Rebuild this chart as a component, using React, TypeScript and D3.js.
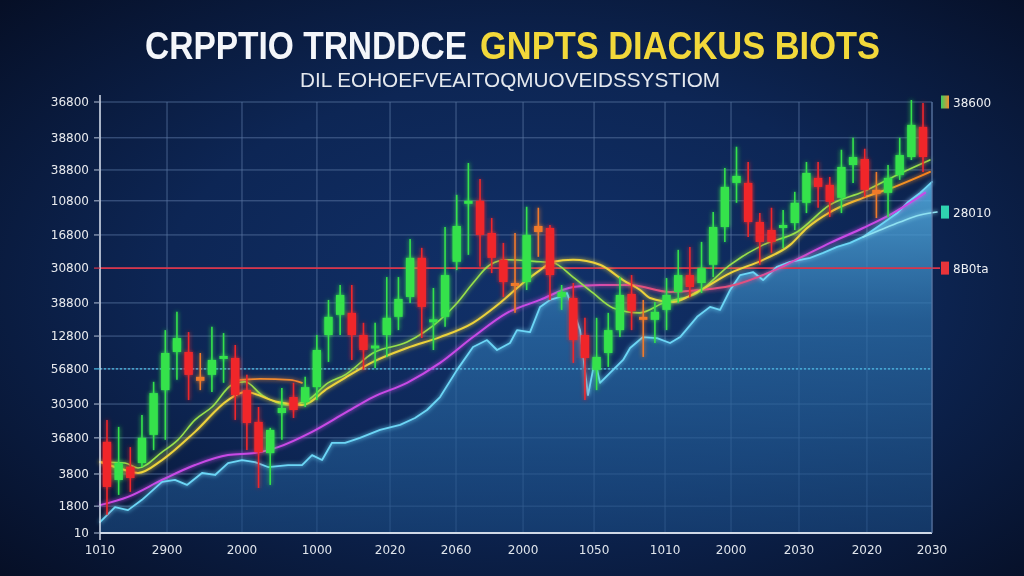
import React from 'react';
import * as d3 from 'd3';

const W = 1024;
const H = 576;

const titleWhite = 'CRPPTIO TRNDDCE';
const titleYellow = 'GNPTS DIACKUS BIOTS';
const subtitle = 'DIL EOHOEFVEAITOQMUOVEIDSSYSTIOM';

const yTickValues = [0, 8.1, 17.8, 28.7, 38.9, 49.5, 59.4, 69.4, 79.9, 89.9, 100.2, 109.5, 119.2, 130];
const yTickLabels = ['10', '1800', '3800', '36800', '30300', '56800', '12800', '38800', '30800', '16800', '10800', '38800', '38800', '36800'];
const xTickValues = [-0.6, 5.15, 11.58, 18.01, 24.28, 29.94, 35.69, 41.78, 47.87, 53.53, 59.36, 65.19, 70.77];
const xTickLabels = ['1010', '2900', '2000', '1000', '2020', '2060', '2000', '1050', '1010', '2000', '2030', '2020', '2030'];

const candleOpen = [27.5, 16.0, 20.0, 21.1, 29.6, 43.1, 54.6, 54.6, 47.1, 47.7, 52.5, 52.8, 43.1, 33.5, 24.1, 36.2, 41.0, 39.5, 44.0, 59.7, 65.8, 66.4, 59.7, 55.8, 59.7, 65.2, 71.2, 83.0, 63.7, 65.2, 81.8, 99.3, 100.2, 90.5, 82.4, 75.4, 75.7, 92.6, 92.0, 71.2, 70.9, 59.7, 49.2, 54.3, 61.2, 72.1, 65.2, 64.3, 67.3, 72.7, 77.8, 75.4, 80.9, 92.3, 105.6, 105.6, 93.8, 91.4, 92.0, 93.5, 99.6, 107.1, 105.0, 101.1, 111.0, 112.8, 103.5, 102.6, 108.0, 113.4, 122.5];
const candleHigh = [34.1, 32.0, 25.9, 35.6, 45.6, 61.2, 66.7, 60.6, 54.3, 62.2, 60.3, 56.7, 47.7, 38.0, 31.7, 43.7, 45.3, 47.1, 59.7, 70.3, 74.8, 74.8, 63.4, 63.4, 77.2, 77.2, 88.7, 86.0, 73.9, 92.3, 102.0, 111.6, 106.8, 95.0, 87.5, 90.5, 98.4, 98.1, 92.9, 74.8, 75.4, 64.9, 64.9, 66.4, 77.2, 77.8, 70.3, 69.7, 76.9, 85.4, 86.3, 87.8, 96.8, 110.1, 116.5, 111.9, 96.5, 98.1, 97.4, 102.9, 111.9, 111.9, 107.4, 115.6, 119.2, 115.9, 108.9, 111.0, 119.2, 130.6, 129.7];
const candleLow = [5.5, 11.5, 12.4, 19.9, 25.0, 28.1, 46.2, 40.1, 43.1, 42.5, 45.3, 34.1, 25.0, 13.6, 14.5, 28.1, 34.7, 38.0, 40.1, 51.6, 59.7, 52.2, 49.2, 49.8, 53.1, 61.2, 69.4, 58.8, 55.2, 62.2, 79.3, 83.9, 80.3, 78.4, 71.2, 66.4, 73.3, 83.3, 70.3, 67.3, 51.3, 40.1, 43.1, 50.1, 59.1, 61.2, 53.1, 57.3, 61.2, 69.4, 71.2, 72.4, 77.2, 87.8, 99.6, 89.3, 80.9, 84.5, 86.0, 91.4, 96.5, 98.1, 95.3, 96.5, 105.6, 101.4, 95.0, 95.3, 106.5, 112.5, 108.9];
const candleClose = [13.9, 21.1, 16.6, 28.7, 42.2, 54.3, 58.8, 47.7, 45.9, 52.2, 53.4, 41.6, 33.2, 24.4, 31.1, 37.7, 37.1, 44.0, 55.2, 65.2, 71.8, 59.7, 55.2, 56.4, 64.9, 70.6, 83.0, 68.2, 64.3, 77.8, 92.6, 100.2, 89.9, 83.0, 75.7, 74.5, 89.9, 90.8, 77.8, 72.7, 58.2, 52.8, 53.1, 61.2, 71.8, 67.0, 64.3, 66.7, 71.8, 77.8, 74.2, 79.9, 92.3, 104.4, 107.7, 93.8, 87.8, 87.8, 92.9, 99.6, 108.6, 104.4, 99.9, 110.4, 113.4, 103.5, 102.3, 107.1, 114.0, 123.1, 113.4];

type P = [number, number];

const priceArea: P[] = [[-0.6, 3.3], [0.69, 7.8], [1.8, 6.9], [3.0, 10.0], [4.72, 15.4], [5.83, 16.0], [6.86, 14.5], [8.15, 18.1], [9.27, 17.5], [10.38, 21.1], [11.58, 22.0], [12.7, 21.4], [13.81, 19.9], [15.53, 20.5], [16.73, 20.5], [17.59, 23.5], [18.45, 22.0], [19.3, 27.2], [20.42, 27.2], [21.7, 28.7], [23.42, 31.1], [25.14, 32.6], [26.42, 34.7], [27.45, 37.1], [28.57, 41.0], [30.03, 49.2], [31.4, 56.1], [32.6, 58.2], [33.46, 55.2], [34.57, 57.3], [35.17, 61.2], [36.29, 60.6], [37.15, 68.2], [38.0, 70.3], [38.86, 71.2], [39.46, 72.4], [39.98, 67.3], [40.58, 61.2], [41.26, 41.6], [41.86, 52.2], [42.29, 45.3], [43.15, 48.3], [44.27, 52.2], [44.87, 55.8], [45.98, 59.1], [47.18, 58.8], [48.3, 57.3], [49.16, 59.1], [50.62, 65.2], [51.73, 68.2], [52.59, 67.3], [53.45, 73.3], [54.31, 77.8], [55.42, 78.7], [56.28, 76.3], [57.48, 80.3], [58.6, 81.8], [60.31, 83.0], [61.43, 84.5], [62.63, 86.3], [63.74, 87.5], [64.86, 89.3], [65.72, 91.4], [66.58, 93.5], [67.78, 96.5], [68.64, 99.6], [69.75, 102.6], [70.77, 105.9]];
const paleCyanLine: P[] = [[64.86, 89.3], [66.32, 91.4], [68.03, 93.8], [69.75, 95.9], [71.2, 96.8]];
const magentaLine: P[] = [[-0.6, 8.4], [1.8, 10.9], [4.72, 16.0], [7.55, 20.5], [10.38, 23.5], [12.7, 24.1], [14.67, 25.9], [17.59, 30.5], [20.42, 36.2], [22.82, 41.0], [25.74, 45.3], [28.57, 51.3], [31.4, 59.1], [34.32, 66.4], [37.15, 70.3], [39.98, 74.2], [42.29, 74.8], [44.87, 74.8], [48.3, 72.7], [50.87, 73.3], [53.45, 74.5], [56.88, 78.7], [59.45, 83.0], [62.03, 87.5], [64.86, 92.0], [67.43, 96.5], [70.17, 102.6]];
const limeLine: P[] = [[-0.6, 21.4], [1.54, 21.1], [2.66, 19.6], [4.72, 24.4], [6.09, 28.1], [7.55, 34.1], [9.01, 38.0], [10.72, 44.7], [11.84, 45.6], [13.3, 41.6], [15.53, 38.6], [17.24, 40.1], [18.96, 45.3], [20.42, 47.7], [22.82, 54.3], [25.74, 57.6], [28.57, 64.3], [30.03, 69.4], [31.4, 75.4], [32.86, 80.9], [34.32, 82.4], [37.15, 81.8], [38.26, 81.5], [39.98, 77.2], [41.69, 72.4], [43.41, 67.9], [45.73, 66.4], [47.7, 69.4], [50.62, 72.4], [53.45, 80.9], [56.28, 86.9], [59.19, 90.8], [62.03, 99.0], [64.86, 102.9], [67.78, 108.0], [70.6, 112.5]];
const yellowLine: P[] = [[-0.6, 21.4], [1.54, 19.0], [2.66, 18.1], [4.72, 22.0], [7.55, 30.5], [10.38, 40.1], [11.84, 42.5], [14.67, 39.5], [16.73, 38.6], [18.96, 43.7], [20.42, 46.8], [22.82, 51.6], [25.74, 55.8], [28.57, 59.1], [31.4, 63.4], [33.71, 69.4], [35.69, 75.4], [37.15, 79.3], [38.26, 81.8], [39.98, 82.4], [42.29, 80.9], [44.27, 76.3], [45.73, 73.3], [46.58, 70.9], [48.55, 69.7], [50.62, 72.7], [53.45, 78.4], [56.28, 82.4], [58.6, 86.9], [60.05, 92.0], [62.03, 96.8], [64.86, 101.1], [67.78, 104.7], [70.6, 108.9]];
const orangeLine: P[] = [[10.72, 45.9], [13.13, 46.5], [15.7, 46.2], [16.73, 45.3]];

const redLevel = 79.9;
const cyanLevel = 49.5;

const legendValues = [130, 96.8, 79.9];
const legendLabels = ['38600', '28010', '8B0ta'];
const legendColors = ['url(#legGrad)', '#2fd3b0', '#e8343a'];

export default function App() {
  const x = d3.scaleLinear().domain([-0.6, 70.77]).range([100, 932]);
  const y = d3.scaleLinear().domain([0, 130]).range([533, 102]);
  const step = x(1) - x(0);
  const bw = step * 0.72;

  const smooth = d3.line<P>().x(d => x(d[0])).y(d => y(d[1])).curve(d3.curveMonotoneX);
  const jag = d3.line<P>().x(d => x(d[0])).y(d => y(d[1])).curve(d3.curveLinear);
  const area = d3.area<P>().x(d => x(d[0])).y0(y(0)).y1(d => y(d[1])).curve(d3.curveLinear);

  const candles = candleOpen.map((o, i) => ({ i, o, h: candleHigh[i], l: candleLow[i], c: candleClose[i] }));
  const colorOf = (d: { o: number; c: number }) => {
    if (d.c >= d.o) return '#34e24c';
    if (d.o - d.c < 2.5) return '#f07a2a';
    return '#f0282c';
  };

  const left = x.range()[0];
  const right = x.range()[1];

  return (
    <svg width={W} height={H} style={{ position: 'fixed', left: 0, top: 0 }} xmlns="http://www.w3.org/2000/svg">
      <defs>
        <radialGradient id="bg" cx="52%" cy="50%" r="72%">
          <stop offset="0%" stopColor="#11316a" />
          <stop offset="50%" stopColor="#0d2655" />
          <stop offset="100%" stopColor="#060f26" />
        </radialGradient>
        <linearGradient id="areaGrad" gradientUnits="userSpaceOnUse" x1="0" y1={y(106)} x2="0" y2={y(0)}>
          <stop offset="0%" stopColor="#55b0e4" stopOpacity={0.85} />
          <stop offset="40%" stopColor="#2c70aa" stopOpacity={0.72} />
          <stop offset="100%" stopColor="#1a4a82" stopOpacity={0.62} />
        </linearGradient>
        <linearGradient id="yellowGrad" gradientUnits="userSpaceOnUse" x1={x(60)} y1="0" x2={x(70)} y2="0">
          <stop offset="0%" stopColor="#ecd23a" />
          <stop offset="100%" stopColor="#f5841f" />
        </linearGradient>
        <linearGradient id="magGrad" gradientUnits="userSpaceOnUse" x1={x(0)} y1="0" x2={x(70)} y2="0">
          <stop offset="0%" stopColor="#c84ae6" />
          <stop offset="55%" stopColor="#c84ae6" />
          <stop offset="65%" stopColor="#e2507e" />
          <stop offset="78%" stopColor="#e2507e" />
          <stop offset="88%" stopColor="#c84ae6" />
          <stop offset="100%" stopColor="#c84ae6" />
        </linearGradient>
        <linearGradient id="legGrad" x1="0" y1="0" x2="1" y2="0">
          <stop offset="0%" stopColor="#3ad060" />
          <stop offset="100%" stopColor="#f08a30" />
        </linearGradient>
        <filter id="glow" x="-10%" y="-10%" width="120%" height="120%">
          <feGaussianBlur stdDeviation="2" result="b" />
          <feMerge>
            <feMergeNode in="b" />
            <feMergeNode in="SourceGraphic" />
          </feMerge>
        </filter>
      </defs>

      <rect x={0} y={0} width={W} height={H} fill="url(#bg)" />

      {/* Title */}
      <g transform="translate(145,59) scale(1,1.18)">
        <text x={0} y={0} fontFamily="'Liberation Sans', Arial, sans-serif" fontWeight={700} fontSize={33} fill="#f4f6fa" textLength={322} lengthAdjust="spacingAndGlyphs">{titleWhite}</text>
      </g>
      <g transform="translate(480,59) scale(1,1.18)">
        <text x={0} y={0} fontFamily="'Liberation Sans', Arial, sans-serif" fontWeight={700} fontSize={33} fill="#f2d83a" textLength={400} lengthAdjust="spacingAndGlyphs">{titleYellow}</text>
      </g>
      <text x={300} y={87} fontFamily="'Liberation Sans', Arial, sans-serif" fontSize={21} fill="#e4e8ee" textLength={420} lengthAdjust="spacingAndGlyphs">{subtitle}</text>

      {/* Grid */}
      <g stroke="#5a75a2" strokeOpacity={0.75} strokeWidth={1}>
        {yTickValues.map((v, i) => (
          <line key={'hy' + i} x1={left} x2={right} y1={y(v)} y2={y(v)} />
        ))}
        {xTickValues.map((v, i) => (
          <line key={'vx' + i} x1={x(v)} x2={x(v)} y1={y(130)} y2={y(0)} />
        ))}
      </g>

      {/* Price area */}
      <path d={area(priceArea) || ''} fill="url(#areaGrad)" />

      {/* Reference levels */}
      <line x1={left} x2={940} y1={y(redLevel)} y2={y(redLevel)} stroke="#d8344a" strokeWidth={1.6} />
      <line x1={left} x2={right} y1={y(cyanLevel)} y2={y(cyanLevel)} stroke="#4cbde6" strokeWidth={1.4} strokeDasharray="2 2" />

      <g filter="url(#glow)" fill="none" strokeLinejoin="round" strokeLinecap="round">
        <path d={jag(priceArea) || ''} stroke="#6cd6f6" strokeWidth={1.8} />
        <path d={smooth(paleCyanLine) || ''} stroke="#8fe2f2" strokeWidth={1.6} />
        <path d={smooth(magentaLine) || ''} stroke="url(#magGrad)" strokeWidth={2} />
        <path d={smooth(limeLine) || ''} stroke="#98e04a" strokeWidth={1.6} />
        <path d={smooth(yellowLine) || ''} stroke="url(#yellowGrad)" strokeWidth={2} />
        <path d={smooth(orangeLine) || ''} stroke="#f08a30" strokeWidth={1.8} />
      </g>

      {/* Candles */}
      <g filter="url(#glow)">
        {candles.map(d => {
          const col = colorOf(d);
          const cx = x(d.i);
          const top = y(Math.max(d.o, d.c));
          const bot = y(Math.min(d.o, d.c));
          const bh = Math.max(3, bot - top);
          return (
            <g key={'c' + d.i}>
              <line x1={cx} x2={cx} y1={y(d.h)} y2={y(d.l)} stroke={col} strokeWidth={1.6} />
              <rect x={cx - bw / 2} y={bh === 3 ? (top + bot) / 2 - 1.5 : top} width={bw} height={bh} fill={col} />
            </g>
          );
        })}
      </g>

      {/* Axes */}
      <line x1={left} x2={left} y1={95} y2={540} stroke="#d6dde8" strokeWidth={1.5} />
      <line x1={left} x2={right} y1={y(0)} y2={y(0)} stroke="#cfd8e6" strokeWidth={1.8} />
      <line x1={right} x2={right} y1={y(130)} y2={y(0)} stroke="#5a75a2" strokeWidth={1} />

      {yTickValues.map((v, i) => (
        <g key={'yt' + i}>
          <line x1={left - 6} x2={left} y1={y(v)} y2={y(v)} stroke={v === redLevel ? '#d8344a' : v === cyanLevel ? '#4cbde6' : '#9aa8c0'} strokeWidth={1.2} />
          <text x={89} y={y(v) + 4} textAnchor="end" fontFamily="'DejaVu Sans', sans-serif" fontSize={12} fill="#e8eaee">{yTickLabels[i]}</text>
        </g>
      ))}

      {xTickValues.map((v, i) => (
        <text key={'xt' + i} x={x(v)} y={554} textAnchor="middle" fontFamily="'DejaVu Sans', sans-serif" fontSize={12} fill="#e0e5ec">{xTickLabels[i]}</text>
      ))}

      {/* Right-side value labels */}
      {legendValues.map((v, i) => (
        <g key={'lg' + i}>
          <rect x={941} y={y(v) - 6.5} width={8} height={13} fill={legendColors[i]} />
          <text x={953} y={y(v) + 4.5} fontFamily="'DejaVu Sans', sans-serif" fontSize={12} fill="#eef0f4">{legendLabels[i]}</text>
        </g>
      ))}
    </svg>
  );
}
